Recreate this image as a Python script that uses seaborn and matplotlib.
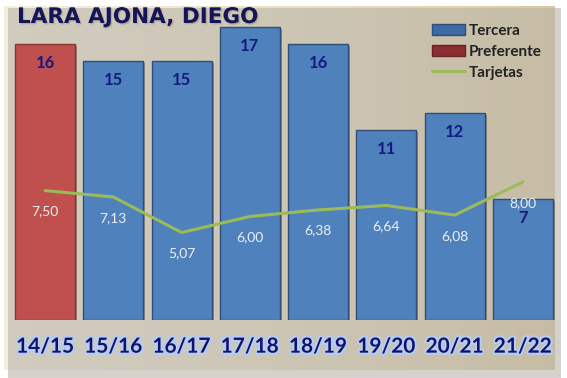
import numpy as np
import pandas as pd
import seaborn as sns
import matplotlib.pyplot as plt
import matplotlib.patheffects as pe
from matplotlib.patches import Patch, Rectangle
from matplotlib.lines import Line2D

# Data
temporadas = ["14/15", "15/16", "16/17", "17/18", "18/19", "19/20", "20/21", "21/22"]
partidos = [16, 15, 15, 17, 16, 11, 12, 7]
categoria = ["Preferente", "Tercera", "Tercera", "Tercera", "Tercera", "Tercera", "Tercera", "Tercera"]
tarjetas = [7.50, 7.13, 5.07, 6.00, 6.38, 6.64, 6.08, 8.00]

df = pd.DataFrame({"temporada": temporadas, "partidos": partidos, "categoria": categoria})

sns.set_style("white")
plt.rcParams['font.family'] = ['Lato', 'DejaVu Sans']

fig = plt.figure(figsize=(5.67, 3.78), dpi=100)
fig.patch.set_facecolor("white")

# background panel with shadow and beige gradient
W, H = 567, 378
shadow = Rectangle((8 / W, 0 / H), 553 / W, 370 / H, transform=fig.transFigure,
                   facecolor="#b9b4aa", edgecolor="none", alpha=0.6, zorder=0)
fig.patches.append(shadow)
bg = fig.add_axes([4 / W, 8 / H, 551 / W, 364 / H], zorder=0)
grad = np.linspace(0, 1, 256)
c1 = np.array([0.96, 0.935, 0.865])
c2 = np.array([0.86, 0.79, 0.62])
img = c1[None, :] + (c2 - c1)[None, :] * (grad[:, None] ** 1.4)
bg.imshow(img[None, :, :], aspect="auto", extent=[0, 1, 0, 1])
bg.set_axis_off()

ax = fig.add_axes([11 / W, 58 / H, 546 / W, 310 / H], zorder=1)
ax.patch.set_alpha(0)

palette = {"Tercera": "#4f81bd", "Preferente": "#c0504d"}
sns.barplot(data=df, x="temporada", y="partidos", hue="categoria", palette=palette,
            dodge=False, width=0.88, saturation=1, legend=False, ax=ax,
            edgecolor="#2f4f78", linewidth=1.0)
for bar in ax.patches:
    bar.set_path_effects([pe.SimplePatchShadow(offset=(1.5, -1.5), shadow_rgbFace="#555040", alpha=0.5),
                          pe.Normal()])
    if bar.get_facecolor()[0] > 0.6:
        bar.set_edgecolor("#8a3432")

sns.lineplot(x=np.arange(len(tarjetas)), y=tarjetas, color="#9bbb59", linewidth=2.2, ax=ax, zorder=5)

for i, v in enumerate(partidos):
    ax.text(i, v - 1.1, str(v), ha="center", va="center", fontsize=12, fontweight="bold",
            color="#161a80", zorder=6)
for i, t in enumerate(tarjetas):
    ax.text(i, t - 1.2, f"{t:.2f}".replace(".", ","), ha="center", va="center", fontsize=10,
            color="#eef0f4", zorder=6)

ax.set_xlim(-0.5, 7.5)
ax.set_ylim(0, 17.97)
ax.set_xlabel("")
ax.set_ylabel("")
ax.set_yticks([])
ax.tick_params(axis="x", length=0, pad=12)
for lab in ax.get_xticklabels():
    lab.set_fontsize(15)
    lab.set_fontweight("bold")
    lab.set_color("#12126e")
    lab.set_path_effects([pe.withStroke(linewidth=3, foreground="#b4cdf0")])
sns.despine(ax=ax, left=True, bottom=True)

fig.text(17 / W, 1 - 17 / H, "LARA AJONA, DIEGO", fontsize=15.5, fontweight="bold",
         family=["DejaVu Sans"], color="#14145a", va="center", ha="left", zorder=3,
         path_effects=[pe.withSimplePatchShadow(offset=(1, -1), shadow_rgbFace="#a09880", alpha=0.6)])

handles = [Patch(facecolor="#3d6aa3", edgecolor="#2f4f78"),
           Patch(facecolor="#8c2f33", edgecolor="#6a2224"),
           Line2D([0], [0], color="#9bbb59", linewidth=2.2)]
leg = fig.legend(handles, ["Tercera", "Preferente", "Tarjetas"], loc="upper left",
                 bbox_to_anchor=(418 / W, 1 - 10 / H), frameon=False,
                 prop={"weight": "bold", "size": 11}, handlelength=2.2, handleheight=0.8,
                 handletextpad=0.2, labelspacing=0.45)
for t in leg.get_texts():
    t.set_color("#222222")

fig.savefig("out.png", dpi=100)
